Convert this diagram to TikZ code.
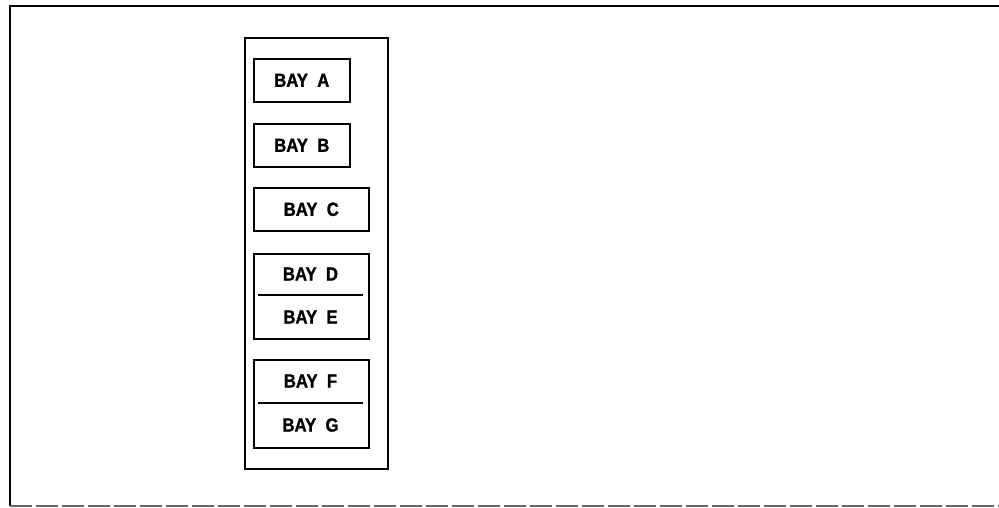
\documentclass[tikz,border=0pt]{standalone}
\usepackage{fontspec}
\setmainfont{Liberation Sans}
\newfontfamily\bayfont{Liberation Sans}[FakeStretch=0.88,FakeBold=1.2]
\begin{document}
\begin{tikzpicture}[x=1pt,y=-1pt,
  frameline/.style={line width=1.5pt,black},
  baybox/.style={draw,line width=1.6pt,rectangle,inner sep=0pt,anchor=north west},
  baytext/.style={font=\bayfont\bfseries\fontsize{19}{20}\selectfont,inner sep=0pt}]
\useasboundingbox (0,0) rectangle (999,508);
% outer frame (top, left, bottom)
\coordinate (tl) at (10,6);
\coordinate (tr) at (999,6);
\coordinate (bl) at (10,506);
\coordinate (br) at (999,506);
\draw[frameline] (tr) -- (tl) -- (bl);
\draw[line width=1.2pt,black!60,dash pattern=on 22pt off 4pt] (bl) -- (br);
% inner column
\node[baybox,minimum width=143pt,minimum height=431pt] (col) at (244,37) {};
% single bays
\node[baybox,minimum width=96pt,minimum height=43pt] (a) at (253,58) {};
\node[baytext] (ta) at (a.center) {BAY\ \ A};
\node[baybox,minimum width=96pt,minimum height=43pt] (b) at (253,123) {};
\node[baytext] (tb) at (b.center) {BAY\ \ B};
\node[baybox,minimum width=115pt,minimum height=43pt] (c) at (253,187) {};
\node[baytext] (tc) at (c.center) {BAY\ \ C};
% double bays
\node[baybox,minimum width=115pt,minimum height=85pt] (de) at (253,253) {};
\coordinate (dl) at (258,295);
\coordinate (dr) at (363,295);
\draw[line width=1.4pt] (dl) -- (dr);
\node[baytext] (td) at (310.5,274) {BAY\ \ D};
\node[baytext] (te) at (310.5,317) {BAY\ \ E};
\node[baybox,minimum width=115pt,minimum height=88pt] (fg) at (253,359) {};
\coordinate (fl) at (258,403);
\coordinate (fr) at (363,403);
\draw[line width=1.4pt] (fl) -- (fr);
\node[baytext] (tf) at (310.5,381) {BAY\ \ F};
\node[baytext] (tg) at (310.5,425) {BAY\ \ G};
\end{tikzpicture}
\end{document}
